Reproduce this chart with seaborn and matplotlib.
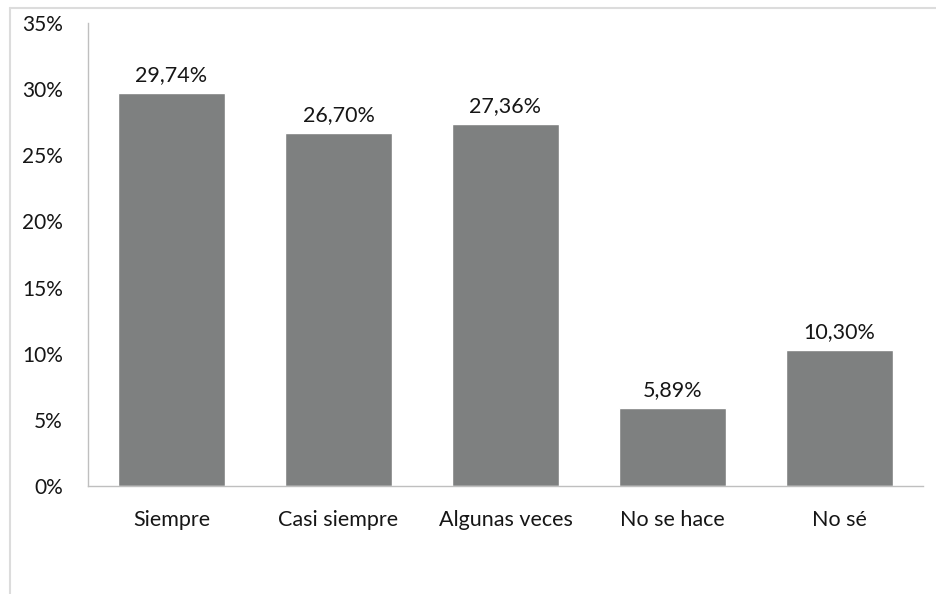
#%% Gráfico de barras: frecuencia de respuestas
import pandas as pd
import seaborn as sns
import matplotlib.pyplot as plt
from matplotlib.lines import Line2D
from matplotlib.ticker import MultipleLocator, FuncFormatter

#%% Datos
categorias = ['Siempre', 'Casi siempre', 'Algunas veces', 'No se hace', 'No sé']
porcentajes = [29.74, 26.70, 27.36, 5.89, 10.30]

df = pd.DataFrame({'Respuesta': categorias, 'Porcentaje': porcentajes})

#%% Gráfico
sns.set_style('white')
plt.rcParams['font.family'] = ['Lato', 'DejaVu Sans']

fig = plt.figure(figsize=(9.37, 5.94), dpi=100)
ax = fig.add_axes([0.0939, 0.1818, 0.8911, 0.7795])

sns.barplot(x='Respuesta', y='Porcentaje', data=df, color='#7e8080',
            width=0.64, saturation=1, ax=ax)

for i, v in enumerate(porcentajes):
    ax.text(i, v + 0.6, f'{v:.2f}%'.replace('.', ','), ha='center', va='bottom',
            fontsize=15.5, color='#161616')

ax.set_ylim(0, 35)
ax.set_xlim(-0.5, 4.5)
ax.yaxis.set_major_locator(MultipleLocator(5))
ax.yaxis.set_major_formatter(FuncFormatter(lambda v, p: f'{v:.0f}%'))
ax.set_xticks([x - 0.5 for x in range(6)], minor=True)
ax.tick_params(axis='x', which='major', length=0, pad=17, labelsize=15.5, labelcolor='#161616')
ax.tick_params(axis='x', which='minor', length=6, width=1, color='#bfbfbf', direction='out')
ax.tick_params(axis='y', length=7, width=1, color='#bfbfbf', direction='out', pad=11,
               labelsize=15, labelcolor='#161616')
ax.set_xlabel('')
ax.set_ylabel('')

for s in ['top', 'right']:
    ax.spines[s].set_visible(False)
for s in ['left', 'bottom']:
    ax.spines[s].set_color('#bfbfbf')
    ax.spines[s].set_linewidth(1)

# marco del gráfico (recortado)
fig.add_artist(Line2D([10/937, 10/937], [0, 1 - 8/594], color='#dcdcdc', lw=1.5))
fig.add_artist(Line2D([10/937, 1], [1 - 8/594, 1 - 8/594], color='#dcdcdc', lw=1.5))

fig.savefig('out.png', dpi=100)
